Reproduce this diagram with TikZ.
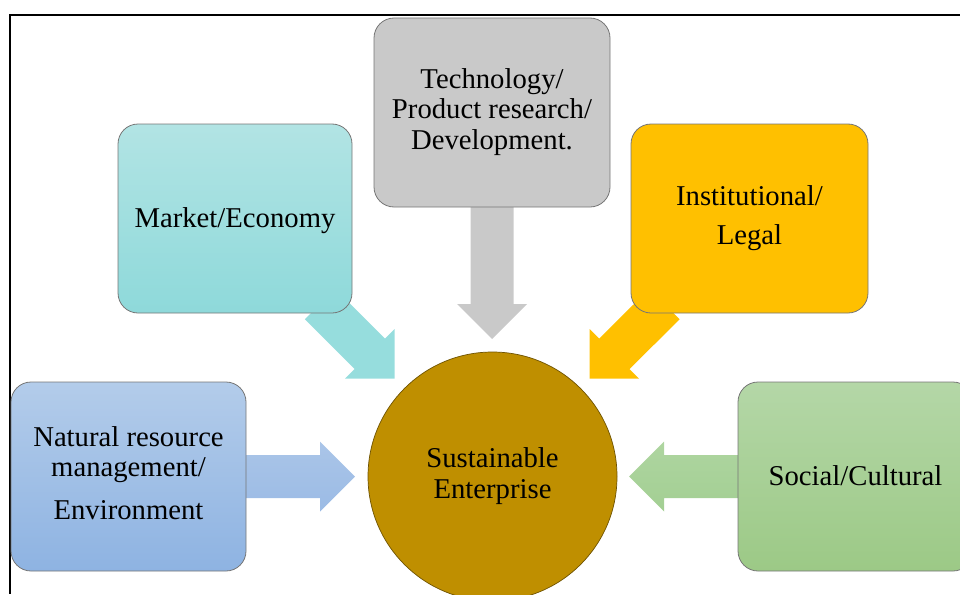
\documentclass[tikz,border=0pt]{standalone}
\usepackage{fontspec}
\setmainfont{Liberation Serif}
\usetikzlibrary{calc}
\definecolor{tealtop}{HTML}{B2E4E4}
\definecolor{tealbot}{HTML}{8ED9DA}
\definecolor{tealarr}{HTML}{96DDDD}
\definecolor{bluetop}{HTML}{B3CCEA}
\definecolor{bluebot}{HTML}{8EB3E2}
\definecolor{bluearrt}{HTML}{AAC5E8}
\definecolor{bluearrb}{HTML}{9BBBE5}
\definecolor{greentop}{HTML}{B4D7A7}
\definecolor{greenbot}{HTML}{9CC986}
\definecolor{greenarrt}{HTML}{AED5A0}
\definecolor{greenarrb}{HTML}{A3CF93}
\definecolor{greyfill}{HTML}{C9C9C9}
\definecolor{amber}{HTML}{FFC000}
\definecolor{gold}{HTML}{BF8F00}
\definecolor{goldline}{HTML}{6E5200}
\definecolor{edge}{HTML}{767676}
\newcommand{\blockarrow}[3]{%
  \coordinate (hb) at ($(#2)!35pt!(#1)$);
  \path[#3] ($(#1)!21.5pt!90:(#2)$) -- ($(hb)!21.5pt!90:(#2)$) -- ($(hb)!35pt!90:(#2)$) -- (#2)
    -- ($(hb)!35pt!-90:(#2)$) -- ($(hb)!21.5pt!-90:(#2)$) -- ($(#1)!21.5pt!-90:(#2)$) -- cycle;
}
\tikzset{
  txt/.style={font=\fontsize{28.7}{30.5}\selectfont, align=center, text=black,
    execute at begin node={\rule{0pt}{25pt}},
    execute at end node={\rule[-7pt]{0pt}{0pt}}},
  boxshape/.style={txt, rectangle, rounded corners=20pt, draw=edge, line width=0.8pt,
    minimum width=235pt, minimum height=189pt, inner sep=0pt},
  framerule/.style={draw=black, line width=1.5pt}
}
\begin{document}
\begin{tikzpicture}[x=1pt,y=-1pt]
\path[use as bounding box, clip] (0,0) rectangle (960,594);
% frame
\coordinate (frR) at (960,15);
\coordinate (frC) at (10,15);
\coordinate (frB) at (10,594);
\draw[framerule] (frR) -- (frC) -- (frB);
% arrow anchor coordinates
\coordinate (natS) at (240,476.5);
\coordinate (natT) at (355,476.5);
\coordinate (socS) at (745,476.5);
\coordinate (socT) at (629,476.5);
\coordinate (techS) at (492,200);
\coordinate (techT) at (492,339);
\coordinate (mktS) at (320,304);
\coordinate (mktT) at (394.5,378.5);
\coordinate (instS) at (664.5,304);
\coordinate (instT) at (589.5,378.5);
% arrows
\blockarrow{natS}{natT}{top color=bluearrt, bottom color=bluearrb}
\blockarrow{socS}{socT}{top color=greenarrt, bottom color=greenarrb}
\blockarrow{techS}{techT}{fill=greyfill}
\blockarrow{mktS}{mktT}{fill=tealarr}
\blockarrow{instS}{instT}{fill=amber}
% boxes
\node[boxshape, top color=tealtop, bottom color=tealbot, minimum width=234pt] (mkt) at (235,218.5) {Market/Economy};
\node[boxshape, fill=greyfill, minimum width=236pt] (tech) at (492,112.5) {Technology/\\Product research/\\Development.};
\node[boxshape, fill=amber, minimum width=237pt] (inst) at (749.5,218.5) {Institutional/\\[8pt]Legal};
\node[boxshape, top color=bluetop, bottom color=bluebot] (nat) at (128.5,476.5) {Natural resource\\management/\\[12pt]Environment};
\node[boxshape, top color=greentop, bottom color=greenbot] (soc) at (855.5,476.5) {Social/Cultural};
% centre
\node[txt, circle, fill=gold, draw=goldline, line width=0.7pt, minimum size=249pt, inner sep=0pt] (se) at (492.5,476.5) {Sustainable\\Enterprise};
\end{tikzpicture}
\end{document}
